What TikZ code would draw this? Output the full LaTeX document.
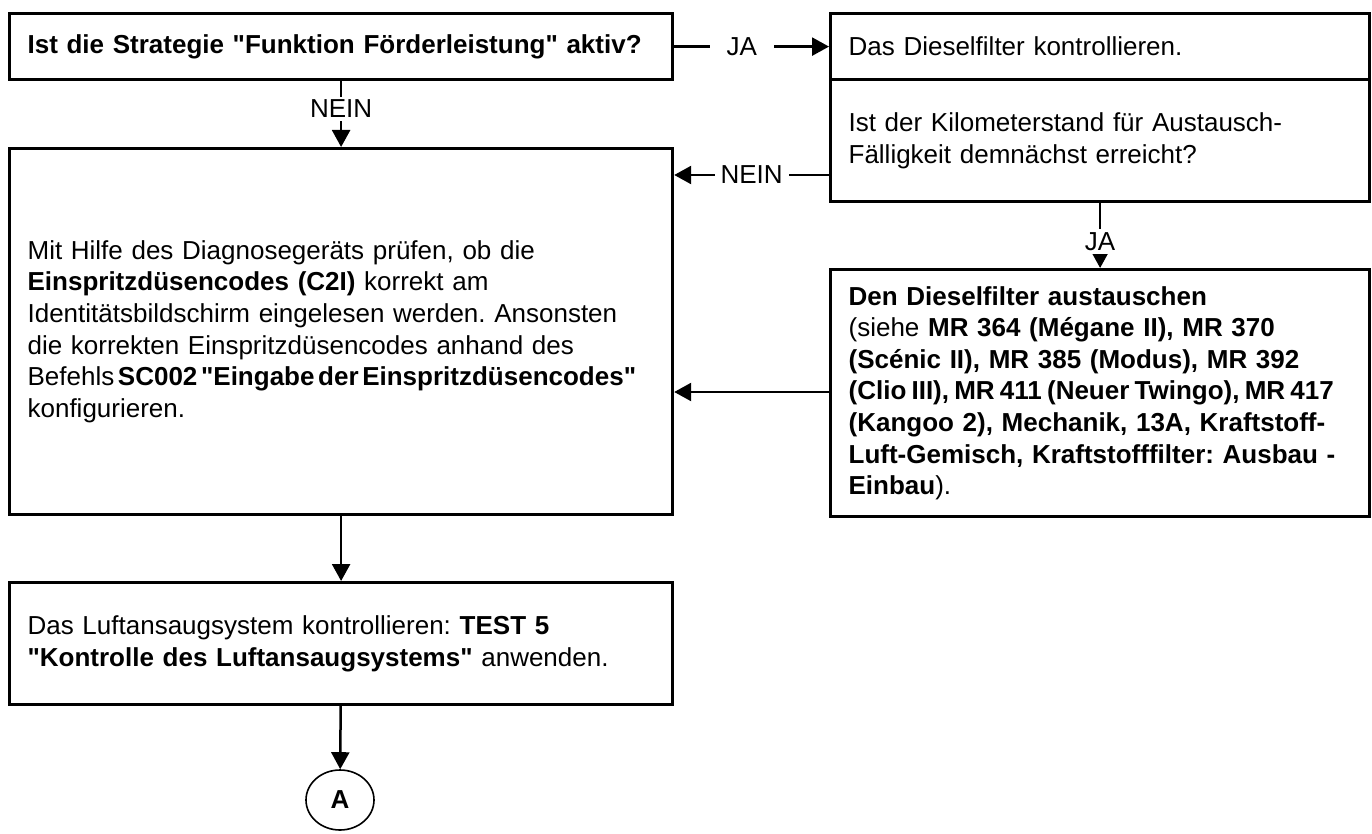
\documentclass[tikz,border=0pt]{standalone}
\usepackage{fontspec}
% plain family: keeps straight " quotes (no TeX ligature mapping)
\newfontfamily\chartfont{Liberation Sans}
\usetikzlibrary{arrows.meta, shapes.geometric}

\tikzset{
  box/.style={draw, line width=3.2pt, anchor=north west, inner xsep=18pt,
    inner ysep=0pt, align=left,
    font=\chartfont\fontsize{26}{31.6}\selectfont\frenchspacing},
  arr/.style={line width=2.5pt, -{Triangle[length=17pt, width=18pt]}},
  lbl/.style={fill=white, inner xsep=6pt, inner ysep=3pt,
    font=\chartfont\fontsize{26}{31.6}\selectfont},
  connector/.style={draw, ellipse, line width=1.6pt, minimum width=68pt,
    minimum height=60pt, inner sep=0pt,
    font=\chartfont\fontsize{26}{31.6}\selectfont\bfseries}
}

\begin{document}
\begin{tikzpicture}[x=1pt, y=-1pt]
\useasboundingbox (0,0) rectangle (1372,834);

% question: strategy active?
\node[box, minimum width=663pt, minimum height=66pt, text width=627pt]
  (q1) at (8,12) {\mbox{\textbf{Ist die Strategie "Funktion Förderleistung" aktiv?}}};

% right column: diesel filter check
\node[box, minimum width=539pt, minimum height=66pt, text width=503pt]
  (r1) at (829,12) {Das Dieselfilter kontrollieren.};
\node[box, minimum width=539pt, minimum height=122pt, text width=503pt]
  (r2) at (829,78) {Ist der Kilometerstand für Austausch-\\Fälligkeit demnächst erreicht?};
\node[box, minimum width=539pt, minimum height=247pt, text width=503pt]
  (r3) at (829,268) {\mbox{\textbf{Den Dieselfilter austauschen}}\\
  \mbox{(siehe \textbf{MR 364 (Mégane II), MR 370}}\\
  \mbox{\textbf{(Scénic II), MR 385 (Modus), MR 392}}\\
  \mbox{\spaceskip=0.2em\textbf{(Clio III), MR 411 (Neuer Twingo), MR 417}}\\
  \mbox{\textbf{(Kangoo 2), Mechanik, 13A, Kraftstoff-}}\\
  \mbox{\textbf{Luft-Gemisch, Kraftstofffilter: Ausbau -}}\\
  \mbox{\textbf{Einbau}).}};

% left column: injector codes and air intake
\node[box, minimum width=663pt, minimum height=366pt, text width=627pt]
  (mid) at (8,147) {\mbox{Mit Hilfe des Diagnosegeräts prüfen, ob die}\\
  \mbox{\textbf{Einspritzdüsencodes (C2I)} korrekt am}\\
  \mbox{Identitätsbildschirm eingelesen werden. Ansonsten}\\
  \mbox{die korrekten Einspritzdüsencodes anhand des}\\
  \mbox{\spaceskip=0.14em Befehls \textbf{SC002 "Eingabe der Einspritzdüsencodes"}}\\
  \mbox{konfigurieren.}};
\node[box, minimum width=663pt, minimum height=122pt, text width=627pt]
  (b3) at (8,581) {\mbox{Das Luftansaugsystem kontrollieren: \textbf{TEST 5}}\\
  \mbox{\textbf{"Kontrolle des Luftansaugsystems"} anwenden.}};

% off-page connector
\node[connector] (A) at (340,800) {A};

% connectors
\draw[arr] (q1) -- node[lbl, pos=0.437, inner xsep=17pt] {JA} (r1);
\draw[arr] (q1) -- node[lbl, pos=0.42] {NEIN} (mid);
\draw[arr] (r2.west |- 0,175) -- node[lbl] {NEIN} (mid.east |- 0,175);
\draw[arr] (r2) -- node[lbl, pos=0.59] {JA} (r3);
\draw[arr] (r3.west |- 0,392) -- (mid.east |- 0,392);
\draw[arr] (mid) -- (b3);
\draw[arr] (b3) -- (A);
\end{tikzpicture}
\end{document}
